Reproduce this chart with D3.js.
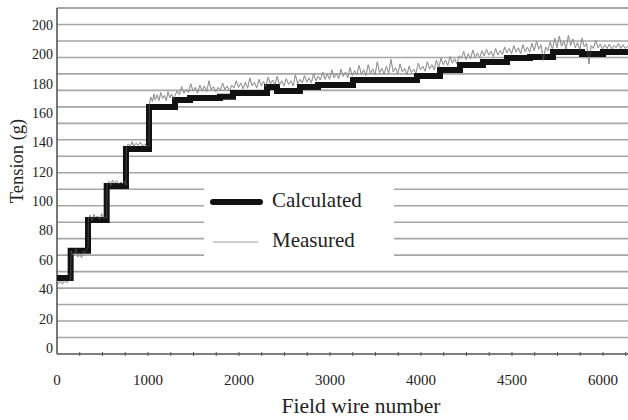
<!DOCTYPE html>
<html>
<head>
<meta charset="utf-8">
<script src="https://cdn.jsdelivr.net/npm/d3@7"></script>
<style>
  html, body { margin: 0; padding: 0; background: #fff; }
  svg { display: block; }
  text { font-family: "Liberation Serif", "Times New Roman", serif; fill: #222; }
</style>
</head>
<body>
<svg id="chart" width="628" height="420"></svg>
<script>
// Calculated tension: step levels [start wire, end wire, tension g]
const calculatedSteps = [
  [0, 150, 47.7], [150, 341, 66.3], [341, 546, 87.2], [546, 758, 110.4],
  [758, 1011, 135.6], [1011, 1297, 164.2], [1297, 1462, 169.0], [1462, 1791, 170.3],
  [1791, 1934, 171.2], [1934, 2308, 173.7], [2308, 2418, 177.8], [2418, 2670, 175.0],
  [2670, 2868, 177.8], [2868, 3253, 179.2], [3253, 3956, 182.6], [3956, 4209, 185.3],
  [4209, 4429, 189.4], [4429, 4681, 192.8], [4681, 4945, 194.8], [4945, 5198, 197.5],
  [5198, 5451, 198.2], [5451, 5769, 201.6], [5769, 6000, 200.3], [6000, 6275, 201.6]
];

// Measured tension readings [wire, tension g]
const measured = [
  [0, 46], [20, 44], [40, 45.5], [60, 43.5], [80, 46], [100, 44.5], [120, 45], [140, 46.5], [150, 47],
  [155, 66], [175, 63], [190, 65], [210, 67.5], [230, 62], [250, 64.5], [270, 61.5], [290, 66], [310, 65], [330, 67.5], [341, 68],
  [345, 88], [365, 90.5], [385, 87], [405, 91], [425, 88.5], [445, 90], [470, 87.5], [490, 91.5], [515, 88], [535, 89.5], [546, 88.5],
  [550, 111], [570, 113.5], [590, 110.5], [610, 114.5], [630, 112], [655, 114], [675, 111.5], [700, 113], [725, 112], [745, 113.5], [758, 111],
  [762, 136.5], [785, 139], [805, 137], [825, 140.5], [845, 137.5], [870, 139.5], [890, 138], [915, 140], [940, 137.5], [965, 139], [990, 137], [1011, 138],
  [1015, 166], [1030, 171], [1050, 168], [1065, 173], [1080, 169], [1100, 172.5], [1120, 168.5], [1140, 174], [1160, 170], [1180, 172], [1200, 168.5],
  [1220, 174.5], [1240, 170.5], [1260, 173], [1280, 169.5], [1297, 172],
  [1320, 175], [1345, 172.5], [1370, 178], [1395, 173.5], [1420, 176], [1445, 174], [1470, 180], [1495, 175], [1520, 177.5], [1545, 173.5],
  [1570, 179], [1595, 175], [1620, 178.5], [1645, 174.5], [1670, 182], [1695, 176], [1720, 178], [1745, 174.5], [1770, 177.5], [1795, 175.5],
  [1820, 180.5], [1845, 176], [1870, 178.5], [1895, 175], [1920, 179], [1945, 177], [1970, 182], [1995, 177.5], [2020, 180.5], [2045, 176.5],
  [2070, 181], [2095, 177], [2120, 184], [2145, 178.5], [2170, 181], [2195, 177], [2220, 183], [2245, 178.5], [2270, 181.5], [2295, 178],
  [2320, 184.5], [2345, 180], [2370, 182.5], [2395, 179.5], [2420, 185], [2445, 179], [2470, 182], [2495, 178.5], [2520, 183.5], [2545, 179.5],
  [2570, 182], [2595, 178.5], [2620, 186], [2645, 180], [2670, 183], [2695, 180.5], [2720, 185.5], [2745, 181], [2770, 184], [2795, 180.5],
  [2820, 187], [2845, 182], [2870, 185], [2895, 182.5], [2920, 188], [2945, 183], [2970, 186.5], [2995, 183], [3020, 189.5], [3045, 184],
  [3070, 187], [3095, 183.5], [3120, 190], [3145, 185], [3170, 188], [3195, 184], [3220, 191], [3245, 185.5], [3270, 189], [3295, 186],
  [3320, 192.5], [3345, 186.5], [3370, 189.5], [3395, 185.5], [3420, 193], [3445, 187], [3470, 190], [3495, 186], [3520, 195], [3545, 187.5],
  [3570, 190.5], [3595, 186.5], [3620, 192], [3645, 187], [3670, 196.5], [3695, 188], [3720, 191], [3745, 186.5], [3770, 193.5], [3795, 188],
  [3820, 190.5], [3845, 186], [3870, 192], [3895, 187.5], [3920, 190], [3945, 187], [3970, 194], [3995, 189.5], [4020, 192], [4045, 188.5],
  [4070, 195], [4095, 190], [4120, 193], [4145, 189.5], [4170, 196], [4195, 191], [4220, 197.5], [4245, 193], [4270, 196], [4295, 192.5],
  [4320, 198.5], [4345, 194], [4370, 197], [4395, 193.5], [4420, 199], [4445, 197.5], [4470, 202], [4495, 196.5], [4520, 200.5], [4545, 197],
  [4570, 203], [4595, 198], [4620, 201], [4645, 197.5], [4670, 202.5], [4695, 199], [4720, 203.5], [4745, 199.5], [4770, 202], [4795, 198.5],
  [4820, 204], [4845, 199.5], [4870, 202.5], [4895, 200], [4920, 205], [4945, 201], [4970, 204], [4995, 200.5], [5020, 206], [5045, 201.5],
  [5070, 204.5], [5095, 200.5], [5120, 206.5], [5145, 202], [5170, 205], [5195, 201.5], [5220, 207.5], [5245, 202.5], [5270, 209], [5295, 203.5],
  [5320, 206.5], [5345, 196], [5370, 205], [5395, 202.5], [5420, 208.5], [5445, 203.5], [5470, 211], [5495, 204.5], [5520, 212.5], [5545, 205.5],
  [5570, 209], [5595, 203.5], [5620, 213], [5645, 206], [5670, 210.5], [5695, 204.5], [5720, 208], [5745, 203], [5770, 211], [5795, 205],
  [5820, 207.5], [5845, 193.5], [5870, 206], [5895, 204], [5920, 209.5], [5945, 204.5], [5970, 207], [5995, 203.5], [6020, 206.5], [6045, 204],
  [6070, 207], [6095, 203.5], [6120, 206], [6145, 204.5], [6170, 207.5], [6195, 204], [6220, 206.5], [6245, 204], [6275, 205.5]
];

// Axis tick values and their printed labels
const xTickValues = [0, 1000, 2000, 3000, 4000, 5000, 6000];
const xTickLabels = ["0", "1000", "2000", "3000", "4000", "4500", "6000"];
const yTickValues = [0, 20, 40, 60, 80, 100, 120, 140, 160, 180, 200, 220];
const yTickLabels = ["0", "20", "40", "60", "80", "100", "120", "140", "160", "180", "200", "200"];

const svg = d3.select("#chart");
const plot = { left: 57, right: 628, top: 8, bottom: 354 };

const x = d3.scaleLinear().domain([0, 6275]).range([plot.left, plot.right]);
const y = d3.scaleLinear().domain([0, 220]).range([348, 25]);
// horizontal rules: 21 equal bands across the plot height
const grid = d3.scaleLinear().domain([0, 21]).range([plot.bottom, plot.top]);

// gridlines
svg.append("g")
  .selectAll("line")
  .data(d3.range(1, 21))
  .join("line")
  .attr("x1", plot.left).attr("x2", plot.right)
  .attr("y1", d => grid(d)).attr("y2", d => grid(d))
  .attr("stroke", "#a6a6a6").attr("stroke-width", 1.6);

// frame: top rule, left and bottom axis lines
svg.append("line").attr("x1", plot.left).attr("x2", plot.right)
  .attr("y1", plot.top).attr("y2", plot.top)
  .attr("stroke", "#8a8a8a").attr("stroke-width", 1.6);
svg.append("line").attr("x1", plot.left).attr("x2", plot.left)
  .attr("y1", plot.top).attr("y2", plot.bottom)
  .attr("stroke", "#555").attr("stroke-width", 1.6);
svg.append("line").attr("x1", plot.left).attr("x2", plot.right)
  .attr("y1", plot.bottom).attr("y2", plot.bottom)
  .attr("stroke", "#555").attr("stroke-width", 1.6);

// minor ticks on the bottom axis
svg.append("g")
  .selectAll("line")
  .data(d3.range(250, 6275, 250))
  .join("line")
  .attr("x1", d => x(d)).attr("x2", d => x(d))
  .attr("y1", plot.bottom - 2).attr("y2", plot.bottom + 2)
  .attr("stroke", "#555").attr("stroke-width", 1);

// legend backdrop hides the rules behind it
svg.append("rect")
  .attr("x", 204).attr("y", 182).attr("width", 190).attr("height", 80)
  .attr("fill", "#fff");

// measured series
const measuredLine = d3.line().x(d => x(d[0])).y(d => y(d[1]));
svg.append("path")
  .datum(measured)
  .attr("d", measuredLine)
  .attr("fill", "none")
  .attr("stroke", "#8c8c8c")
  .attr("stroke-width", 1);

// calculated series as a step line
const calcPoints = [];
calculatedSteps.forEach(s => { calcPoints.push([s[0], s[2]]); calcPoints.push([s[1], s[2]]); });
svg.append("path")
  .datum(calcPoints)
  .attr("d", d3.line().x(d => x(d[0])).y(d => y(d[1])))
  .attr("fill", "none")
  .attr("stroke", "#111")
  .attr("stroke-width", 6)
  .attr("stroke-linejoin", "miter");

// measured series drawn again lightly on top of the thick line
svg.append("path")
  .datum(measured)
  .attr("d", measuredLine)
  .attr("fill", "none")
  .attr("stroke", "#9a9a9a")
  .attr("stroke-width", 0.6)
  .attr("opacity", 0.6);

// y tick labels
svg.append("g")
  .selectAll("text")
  .data(yTickValues)
  .join("text")
  .attr("x", 53)
  .attr("y", d => y(d))
  .attr("dy", "0.35em")
  .attr("text-anchor", "end")
  .attr("font-size", 14)
  .text((d, i) => yTickLabels[i]);

// x tick labels
svg.append("g")
  .selectAll("text")
  .data(xTickValues)
  .join("text")
  .attr("x", d => x(d))
  .attr("y", 385)
  .attr("text-anchor", "middle")
  .attr("font-size", 15)
  .text((d, i) => xTickLabels[i]);

// axis titles
svg.append("text")
  .attr("x", 361).attr("y", 413)
  .attr("text-anchor", "middle")
  .attr("font-size", 21.5)
  .text("Field wire number");
svg.append("text")
  .attr("transform", "translate(23,161) rotate(-90)")
  .attr("text-anchor", "middle")
  .attr("font-size", 18.5)
  .text("Tension (g)");

// legend
svg.append("line").attr("x1", 213).attr("x2", 260).attr("y1", 202).attr("y2", 202)
  .attr("stroke", "#111").attr("stroke-width", 6).attr("stroke-linecap", "round");
svg.append("text").attr("x", 272).attr("y", 207).attr("font-size", 21).text("Calculated");
svg.append("line").attr("x1", 213).attr("x2", 258).attr("y1", 242).attr("y2", 242)
  .attr("stroke", "#9a9a9a").attr("stroke-width", 1);
svg.append("text").attr("x", 272).attr("y", 247).attr("font-size", 21).text("Measured");
</script>
</body>
</html>
